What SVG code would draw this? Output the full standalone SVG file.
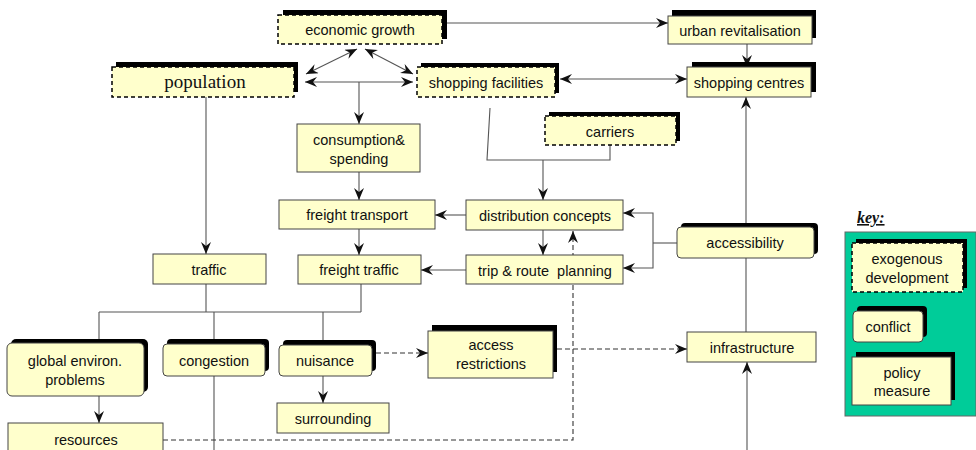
<svg xmlns="http://www.w3.org/2000/svg" width="976" height="450" viewBox="0 0 976 450">
  <defs>
    <marker id="arr" markerUnits="userSpaceOnUse" markerWidth="13" markerHeight="11" refX="12" refY="5" orient="auto-start-reverse" viewBox="0 0 13 11">
      <path d="M0,0 L12,5 L0,10 L4,5 z" fill="#111"/>
    </marker>
  </defs>
  <style>
    .bg { fill: #ffffff; }
    .sh { fill: #000000; }
    .box { fill: #ffffcc; stroke: #444444; stroke-width: 1; }
    .exo { fill: #ffffcc; stroke: #000000; stroke-width: 1.5; stroke-dasharray: 4 3; }
    .ln { fill: none; stroke: #555555; stroke-width: 1.1; }
    .dash { fill: none; stroke: #333333; stroke-width: 1.1; stroke-dasharray: 5 3; }
    .arrow { marker-end: url(#arr); }
    .both { marker-start: url(#arr); marker-end: url(#arr); }
    text { font-family: "Liberation Sans", Arial, sans-serif; font-size: 14.5px; fill: #111111; text-anchor: middle; }
    .serif { font-family: "Liberation Serif", "Times New Roman", serif; font-size: 19px; }
    .key { font-family: "Liberation Serif", "Times New Roman", serif; font-size: 16px; font-weight: bold; font-style: italic; text-decoration: underline; text-anchor: start; }
  </style>
  <rect class="bg" x="0" y="0" width="976" height="450"/>

  <!-- connectors -->
  <g id="connectors">
    <path class="ln arrow" d="M447,23 H668"/>
    <path class="ln arrow" d="M747,44 V67"/>
    <path class="ln both" d="M560,79 H687"/>
    <path class="ln both" d="M357,49 L306,74"/>
    <path class="ln both" d="M365,49 L413,74"/>
    <path class="ln both" d="M305,82 H413"/>
    <path class="ln arrow" d="M359,82 V124"/>
    <path class="ln arrow" d="M359,172 V200"/>
    <path class="ln arrow" d="M359,229 V255"/>
    <path class="ln arrow" d="M206,97 V254"/>
    <path class="ln" d="M490,108 L487,160 H610 V145"/>
    <path class="ln arrow" d="M543,160 V200"/>
    <path class="ln arrow" d="M466,215 H435"/>
    <path class="ln arrow" d="M466,270 H421"/>
    <path class="ln arrow" d="M543,230 V255"/>
    <path class="ln" d="M677,243 H653"/>
    <path class="ln arrow" d="M653,243 V213 H623"/>
    <path class="ln arrow" d="M653,243 V268 H623"/>
    <path class="ln arrow" d="M746,332 V97"/>
    <path class="ln arrow" d="M747,450 V362"/>
    <path class="ln" d="M206,284 V312 M361,284 V312 M99,312 H361 M99,312 V339 M323,312 V340"/>
    <path class="ln" d="M214,312 V450"/>
    <path class="ln arrow" d="M99,396 V423"/>
    <path class="ln arrow" d="M323,376 V403"/>
    <path class="dash arrow" d="M376,353 H428"/>
    <path class="dash arrow" d="M557,349 H687"/>
    <path class="dash arrow" d="M163,440 H573 V231"/>
  </g>

  <!-- nodes -->
  <g id="economic-growth">
    <rect class="sh" x="283" y="10" width="164" height="29"/>
    <rect class="exo" x="278" y="15" width="164" height="29"/>
    <text x="360" y="35">economic growth</text>
  </g>
  <g id="population">
    <rect class="sh" x="116" y="62" width="182" height="30"/>
    <rect class="exo" x="112" y="67" width="182" height="30"/>
    <text class="serif" x="205" y="88">population</text>
  </g>
  <g id="shopping-facilities">
    <rect class="sh" x="421" y="63" width="138" height="30"/>
    <rect class="exo" x="417" y="67" width="138" height="30"/>
    <text x="486" y="88">shopping facilities</text>
  </g>
  <g id="urban-revitalisation">
    <rect class="sh" x="672" y="10" width="144" height="28"/>
    <rect class="box" x="668" y="16" width="144" height="28"/>
    <text x="740" y="36">urban revitalisation</text>
  </g>
  <g id="shopping-centres">
    <rect class="sh" x="692" y="62" width="124" height="30"/>
    <rect class="box" x="687" y="67" width="124" height="30"/>
    <text x="749" y="88">shopping centres</text>
  </g>
  <g id="consumption">
    <rect class="box" x="297" y="124" width="123" height="48"/>
    <text x="359" y="145">consumption&amp;</text>
    <text x="359" y="164">spending</text>
  </g>
  <g id="carriers">
    <rect class="sh" x="549" y="112" width="131" height="29"/>
    <rect class="exo" x="545" y="116" width="131" height="29"/>
    <text x="610" y="137">carriers</text>
  </g>
  <g id="freight-transport">
    <rect class="box" x="279" y="200" width="156" height="29"/>
    <text x="357" y="220">freight transport</text>
  </g>
  <g id="distribution-concepts">
    <rect class="box" x="466" y="200" width="157" height="30"/>
    <text x="545" y="221">distribution concepts</text>
  </g>
  <g id="traffic">
    <rect class="box" x="153" y="254" width="113" height="30"/>
    <text x="209" y="275">traffic</text>
  </g>
  <g id="freight-traffic">
    <rect class="box" x="298" y="255" width="123" height="29"/>
    <text x="359" y="275">freight traffic</text>
  </g>
  <g id="trip-route-planning">
    <rect class="box" x="466" y="255" width="157" height="29"/>
    <text x="545" y="276" xml:space="preserve">trip &amp; route  planning</text>
  </g>
  <g id="accessibility">
    <rect class="sh" x="681" y="223" width="137" height="31" rx="4"/>
    <rect class="box" x="677" y="227" width="137" height="31" rx="4"/>
    <text x="745" y="248">accessibility</text>
  </g>
  <g id="global-environ">
    <rect class="sh" x="11" y="339" width="137" height="53" rx="5"/>
    <rect class="box" x="7" y="343" width="137" height="53" rx="5"/>
    <text x="75" y="366">global environ.</text>
    <text x="75" y="385">problems</text>
  </g>
  <g id="congestion">
    <rect class="sh" x="167" y="339" width="102" height="32" rx="4"/>
    <rect class="box" x="163" y="344" width="102" height="32" rx="4"/>
    <text x="214" y="366">congestion</text>
  </g>
  <g id="nuisance">
    <rect class="sh" x="283" y="340" width="93" height="31" rx="4"/>
    <rect class="box" x="279" y="345" width="93" height="31" rx="4"/>
    <text x="325" y="366">nuisance</text>
  </g>
  <g id="surrounding">
    <rect class="box" x="277" y="403" width="112" height="30"/>
    <text x="333" y="424">surrounding</text>
  </g>
  <g id="resources">
    <rect class="box" x="8" y="423" width="155" height="40"/>
    <text x="86" y="445">resources</text>
  </g>
  <g id="access-restrictions">
    <rect class="sh" x="432" y="325" width="125" height="47"/>
    <rect class="box" x="428" y="331" width="125" height="47"/>
    <text x="491" y="350">access</text>
    <text x="491" y="369">restrictions</text>
  </g>
  <g id="infrastructure">
    <rect class="box" x="687" y="332" width="129" height="30"/>
    <text x="752" y="353">infrastructure</text>
  </g>

  <!-- legend -->
  <g id="legend">
    <text class="key" x="857" y="223">key:</text>
    <rect x="845" y="232" width="131" height="184" fill="#00cc99" stroke="#666666" stroke-width="1"/>
    <g id="key-exogenous">
      <rect class="sh" x="856" y="239" width="111" height="49"/>
      <rect class="exo" x="852" y="243" width="111" height="49"/>
      <text x="907" y="264">exogenous</text>
      <text x="907" y="283">development</text>
    </g>
    <g id="key-conflict">
      <rect class="sh" x="857" y="306" width="70" height="31" rx="4"/>
      <rect class="box" x="853" y="311" width="70" height="31" rx="4"/>
      <text x="888" y="332">conflict</text>
    </g>
    <g id="key-policy">
      <rect class="sh" x="856" y="352" width="99" height="48"/>
      <rect class="box" x="852" y="357" width="99" height="48"/>
      <text x="902" y="378">policy</text>
      <text x="902" y="396">measure</text>
    </g>
  </g>
</svg>
